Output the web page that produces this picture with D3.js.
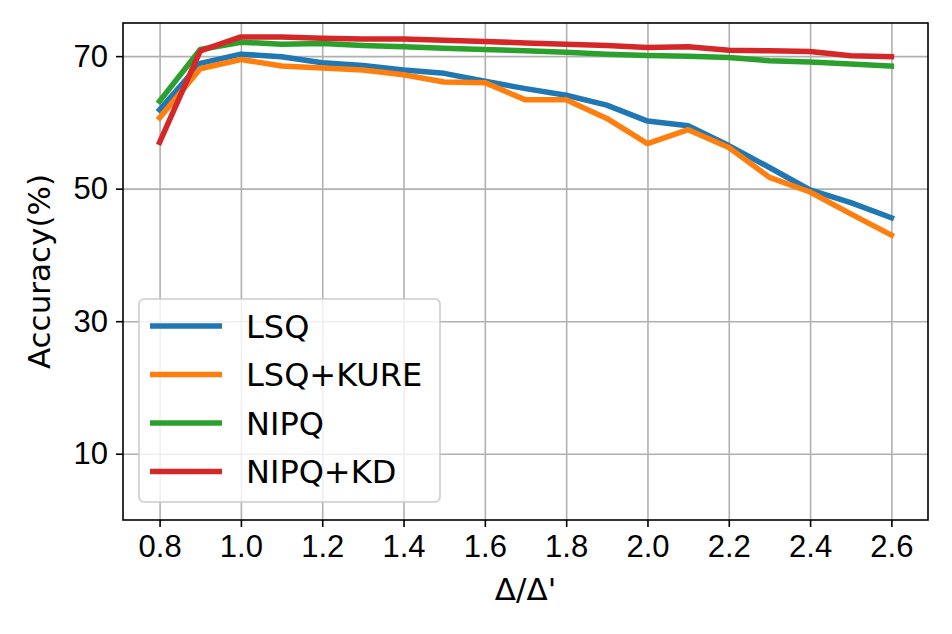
<!DOCTYPE html>
<html>
<head>
<meta charset="utf-8">
<script src="https://cdn.jsdelivr.net/npm/d3@7"></script>
<style>
  body { margin: 0; background: #fff; }
  svg { display: block; font-family: "DejaVu Sans", sans-serif; }
  .grid line { stroke: #b0b0b0; stroke-width: 1.6; }
  .grid path { display: none; }
  .axis path { display: none; }
  .axis line { stroke: #000; stroke-width: 1.6; }
  .axis text { fill: #000; font-size: 31px; }
</style>
</head>
<body>
<div id="chart"></div>
<script>
// Data
var ratios = [0.8, 0.9, 1.0, 1.1, 1.2, 1.3, 1.4, 1.5, 1.6, 1.7, 1.8, 1.9, 2.0, 2.1, 2.2, 2.3, 2.4, 2.5, 2.6];
var lsq = [61.9, 68.9, 70.3, 69.9, 69.0, 68.6, 67.9, 67.4, 66.2, 65.1, 64.1, 62.6, 60.2, 59.5, 56.5, 53.2, 49.8, 47.9, 45.6];
var lsqKure = [60.7, 68.1, 69.5, 68.5, 68.2, 67.9, 67.2, 66.1, 66.0, 63.4, 63.4, 60.6, 56.8, 58.9, 56.2, 51.7, 49.5, 46.2, 43.0];
var nipq = [63.2, 71.0, 72.1, 71.8, 71.9, 71.6, 71.4, 71.2, 71.0, 70.8, 70.6, 70.3, 70.1, 70.0, 69.8, 69.3, 69.1, 68.8, 68.5];
var nipqKd = [57.0, 70.8, 72.9, 72.9, 72.7, 72.6, 72.6, 72.4, 72.2, 72.0, 71.8, 71.6, 71.3, 71.4, 70.9, 70.8, 70.7, 70.05, 69.9];
var seriesNames = ["LSQ", "LSQ+KURE", "NIPQ", "NIPQ+KD"];
var seriesColors = ["#1f77b4", "#ff7f0e", "#2ca02c", "#d62728"];
var xTicks = [0.8, 1.0, 1.2, 1.4, 1.6, 1.8, 2.0, 2.2, 2.4, 2.6];
var yTicks = [10, 30, 50, 70];

var width = 952, height = 634;
var margins = { top: 23, right: 24, bottom: 114, left: 123 };
var chartWidth = width - margins.left - margins.right;
var chartHeight = height - margins.top - margins.bottom;

var svg = d3.select("#chart")
  .append("svg")
  .attr("width", width)
  .attr("height", height);

var chart = svg.append("g")
  .attr("transform", "translate(" + margins.left + "," + margins.top + ")");

// 5% padding on x like the original
var xPad = (2.6 - 0.8) * 0.05;
var xScale = d3.scaleLinear()
  .domain([0.8 - xPad, 2.6 + xPad])
  .range([0, chartWidth]);

var yScale = d3.scaleLinear()
  .domain([0, 75])
  .range([chartHeight, 0]);

// Grid
chart.append("g")
  .attr("class", "grid")
  .attr("transform", "translate(0," + chartHeight + ")")
  .call(d3.axisBottom(xScale).tickValues(xTicks).tickSize(-chartHeight).tickFormat(""));

chart.append("g")
  .attr("class", "grid")
  .call(d3.axisLeft(yScale).tickValues(yTicks).tickSize(-chartWidth).tickFormat(""));

// Axes
chart.append("g")
  .attr("class", "x axis")
  .attr("transform", "translate(0," + chartHeight + ")")
  .call(d3.axisBottom(xScale).tickValues(xTicks).tickSize(7).tickPadding(8).tickFormat(d3.format(".1f")));

chart.append("g")
  .attr("class", "y axis")
  .call(d3.axisLeft(yScale).tickValues(yTicks).tickSize(7).tickPadding(8).tickFormat(d3.format("d")));

// Lines
var allSeries = [lsq, lsqKure, nipq, nipqKd];
var line = d3.line()
  .x(function(d, i) { return xScale(ratios[i]); })
  .y(function(d) { return yScale(d); });

allSeries.forEach(function(values, i) {
  chart.append("path")
    .datum(values)
    .attr("fill", "none")
    .attr("stroke", seriesColors[i])
    .attr("stroke-width", 5.5)
    .attr("stroke-linejoin", "round")
    .attr("stroke-linecap", "square")
    .attr("d", line);
});

// Frame
chart.append("rect")
  .attr("width", chartWidth)
  .attr("height", chartHeight)
  .attr("fill", "none")
  .attr("stroke", "#000")
  .attr("stroke-width", 1.6);

// Legend
var legend = chart.append("g")
  .attr("transform", "translate(16,276)");

legend.append("rect")
  .attr("width", 301)
  .attr("height", 203)
  .attr("rx", 5)
  .attr("fill", "#fff")
  .attr("fill-opacity", 0.8)
  .attr("stroke", "#cccccc")
  .attr("stroke-width", 1.6);

var item = legend.selectAll(".item")
  .data(seriesNames)
  .enter()
  .append("g")
  .attr("class", "item")
  .attr("transform", function(d, i) { return "translate(0," + (27 + i * 48.5) + ")"; });

item.append("line")
  .attr("x1", 11)
  .attr("x2", 83)
  .attr("stroke", function(d, i) { return seriesColors[i]; })
  .attr("stroke-width", 5.5);

item.append("text")
  .attr("x", 107)
  .attr("y", 11.5)
  .attr("font-size", 32)
  .text(function(d) { return d; });

// Axis labels
svg.append("text")
  .attr("x", margins.left + chartWidth / 2)
  .attr("y", 600)
  .attr("text-anchor", "middle")
  .attr("font-size", 31)
  .text("Δ/Δ'");

svg.append("text")
  .attr("transform", "translate(50," + (margins.top + chartHeight / 2) + ") rotate(-90)")
  .attr("text-anchor", "middle")
  .attr("font-size", 31)
  .text("Accuracy(%)");
</script>
</body>
</html>
